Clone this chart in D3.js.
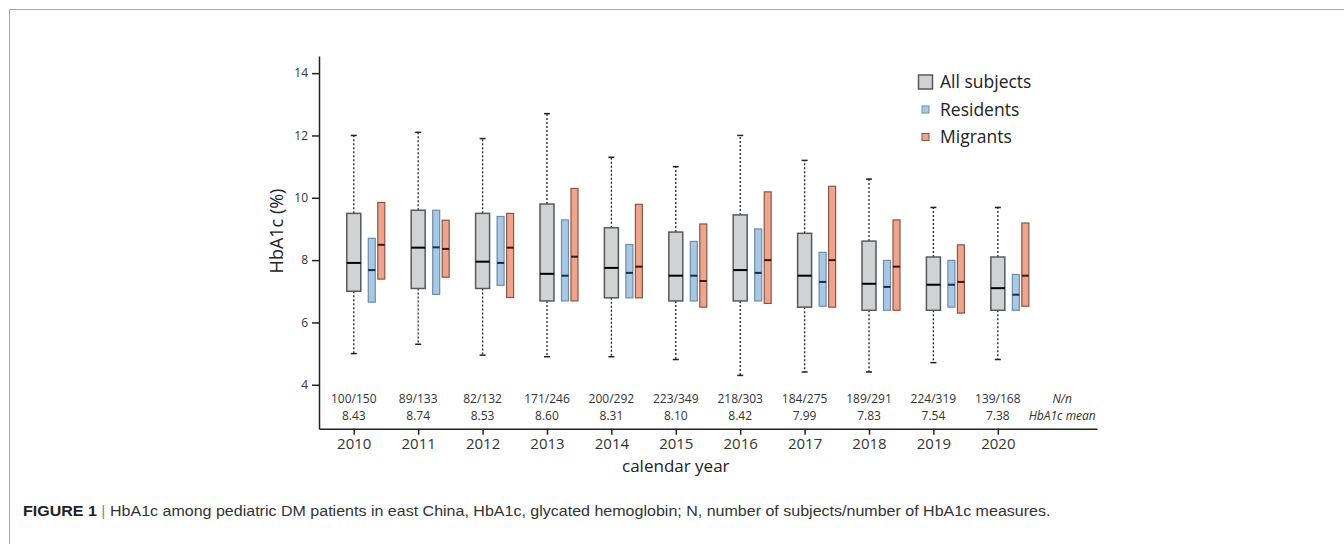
<!DOCTYPE html>
<html>
<head>
<meta charset="utf-8">
<script src="https://cdn.jsdelivr.net/npm/d3@7"></script>
<style>
  html, body { margin: 0; padding: 0; background: #fff; }
  svg { display: block; }
</style>
</head>
<body>
<svg id="chart" width="1344" height="544"></svg>
<script>
// ---------------- data ----------------
const years = [2010, 2011, 2012, 2013, 2014, 2015, 2016, 2017, 2018, 2019, 2020];
// All subjects: [whisker low, Q1, median, Q3, whisker high]
const allSubjects = [
  [5.00, 7.00, 7.91, 9.50, 12.00],
  [5.30, 7.09, 8.40, 9.60, 12.10],
  [4.95, 7.09, 7.95, 9.50, 11.90],
  [4.90, 6.69, 7.56, 9.80, 12.70],
  [4.90, 6.79, 7.75, 9.04, 11.30],
  [4.81, 6.69, 7.50, 8.90, 11.00],
  [4.30, 6.69, 7.68, 9.45, 12.00],
  [4.41, 6.49, 7.50, 8.86, 11.20],
  [4.41, 6.39, 7.24, 8.61, 10.60],
  [4.71, 6.39, 7.21, 8.10, 9.69],
  [4.81, 6.39, 7.10, 8.10, 9.69]
];
// Residents: [Q1, median, Q3]
const residents = [
  [6.65, 7.68, 8.70],
  [6.90, 8.41, 9.60],
  [7.19, 7.91, 9.40],
  [6.69, 7.50, 9.29],
  [6.79, 7.59, 8.50],
  [6.69, 7.50, 8.60],
  [6.69, 7.59, 9.00],
  [6.52, 7.30, 8.25],
  [6.39, 7.14, 7.99],
  [6.49, 7.21, 7.99],
  [6.39, 6.89, 7.54]
];
// Migrants: [Q1, median, Q3]
const migrants = [
  [7.39, 8.49, 9.85],
  [7.45, 8.36, 9.28],
  [6.80, 8.40, 9.50],
  [6.69, 8.11, 10.30],
  [6.79, 7.79, 9.79],
  [6.49, 7.33, 9.16],
  [6.61, 8.00, 10.19],
  [6.49, 8.00, 10.37],
  [6.39, 7.79, 9.29],
  [6.30, 7.30, 8.49],
  [6.52, 7.50, 9.19]
];
const nLabels = ["100/150", "89/133", "82/132", "171/246", "200/292", "223/349", "218/303", "184/275", "189/291", "224/319", "139/168"];
const meanLabels = ["8.43", "8.74", "8.53", "8.60", "8.31", "8.10", "8.42", "7.99", "7.83", "7.54", "7.38"];
const yTicks = [4, 6, 8, 10, 12, 14];
const legendLabels = ["All subjects", "Residents", "Migrants"];
const rowHeaders = ["N/n", "HbA1c mean"];
const yTitle = "HbA1c (%)";
const xTitle = "calendar year";
const captionBold = "FIGURE 1";
const captionText = "HbA1c among pediatric DM patients in east China, HbA1c, glycated hemoglobin; N, number of subjects/number of HbA1c measures.";

// ---------------- drawing ----------------
const FONT = "'Open Sans', 'Noto Sans', sans-serif";
const svg = d3.select("#chart");

// frame
svg.append("path")
  .attr("d", "M9.5,544 L9.5,9.5 L1344,9.5")
  .attr("fill", "none").attr("stroke", "#a8a8a8").attr("stroke-width", 1);

const x = d3.scaleLinear().domain([2009.46, 2021.54]).range([319, 1097]);
const y = d3.scaleLinear().domain([2.59, 14.55]).range([428.7, 56]);

const colAll = { fill: "#d1d2d3", stroke: "#58595b", med: "#000" };
const colRes = { fill: "#a8c8e6", stroke: "#6f8ca8", med: "#1a2f45" };
const colMig = { fill: "#eda58d", stroke: "#8d5545", med: "#3d160d" };

// axes
const yAxis = svg.append("g").attr("transform", "translate(319,0)")
  .call(d3.axisLeft(y).tickValues(yTicks).tickSize(7).tickSizeOuter(0).tickPadding(4));
const xAxis = svg.append("g").attr("transform", "translate(0,428.7)")
  .call(d3.axisBottom(x).tickValues(years).tickFormat(d3.format("d")).tickSize(6).tickSizeOuter(0).tickPadding(4));
[yAxis, xAxis].forEach(g => {
  g.select(".domain").attr("stroke", "#222").attr("stroke-width", 1.5);
  g.selectAll(".tick line").attr("stroke", "#222").attr("stroke-width", 1.5);
  g.selectAll(".tick text").attr("fill", "#333").style("font-family", FONT);
});
yAxis.selectAll(".tick text").style("font-size", "12px");
xAxis.selectAll(".tick text").style("font-size", "15px");

// whiskers (all subjects)
const plot = svg.append("g");
const wG = plot.selectAll(".whisk").data(allSubjects).enter().append("g");
wG.append("line")
  .attr("x1", (d, i) => x(years[i])).attr("x2", (d, i) => x(years[i]))
  .attr("y1", d => y(d[3])).attr("y2", d => y(d[4]))
  .attr("stroke", "#222").attr("stroke-width", 1.3).attr("stroke-dasharray", "2,2");
wG.append("line")
  .attr("x1", (d, i) => x(years[i])).attr("x2", (d, i) => x(years[i]))
  .attr("y1", d => y(d[1])).attr("y2", d => y(d[0]))
  .attr("stroke", "#222").attr("stroke-width", 1.3).attr("stroke-dasharray", "2,2");
[4, 0].forEach(k => {
  wG.append("line")
    .attr("x1", (d, i) => x(years[i]) - 3).attr("x2", (d, i) => x(years[i]) + 3)
    .attr("y1", d => y(d[k])).attr("y2", d => y(d[k]))
    .attr("stroke", "#222").attr("stroke-width", 1.5);
});

function drawBoxes(data, qi, offset, width, col, sw) {
  const g = plot.append("g");
  const b = g.selectAll("g").data(data).enter().append("g");
  b.append("rect")
    .attr("x", (d, i) => x(years[i]) + offset - width / 2)
    .attr("width", width)
    .attr("y", d => y(d[qi[2]]))
    .attr("height", d => y(d[qi[0]]) - y(d[qi[2]]))
    .attr("fill", col.fill).attr("stroke", col.stroke).attr("stroke-width", sw);
  b.append("line")
    .attr("x1", (d, i) => x(years[i]) + offset - width / 2)
    .attr("x2", (d, i) => x(years[i]) + offset + width / 2)
    .attr("y1", d => y(d[qi[1]])).attr("y2", d => y(d[qi[1]]))
    .attr("stroke", col.med).attr("stroke-width", 2);
}
drawBoxes(allSubjects, [1, 2, 3], 0, 14, colAll, 1.5);
drawBoxes(residents, [0, 1, 2], 18, 7, colRes, 1.2);
drawBoxes(migrants, [0, 1, 2], 27.5, 7, colMig, 1.2);

// N/n and mean labels
const lab = svg.append("g").style("font-family", FONT).style("font-size", "12px").attr("fill", "#333").attr("text-anchor", "middle");
lab.selectAll(".n").data(nLabels).enter().append("text")
  .attr("x", (d, i) => x(years[i])).attr("y", 403).text(d => d);
lab.selectAll(".m").data(meanLabels).enter().append("text")
  .attr("x", (d, i) => x(years[i])).attr("y", 420).text(d => d);
lab.selectAll(".h").data(rowHeaders).enter().append("text")
  .attr("x", x(2021)).attr("y", (d, i) => i === 0 ? 403 : 420)
  .style("font-style", "italic").text(d => d);

// axis titles
svg.append("text")
  .attr("transform", "translate(283,231) rotate(-90)")
  .attr("text-anchor", "middle").attr("fill", "#222")
  .style("font-family", FONT).style("font-size", "18px").text(yTitle);
svg.append("text")
  .attr("x", x(2015)).attr("y", 472)
  .attr("text-anchor", "middle").attr("fill", "#222")
  .style("font-family", FONT).style("font-size", "17px").text(xTitle);

// legend
const leg = svg.append("g").style("font-family", FONT).style("font-size", "17.5px");
const legCols = [colAll, colRes, colMig];
const legSizes = [14, 7, 7];
legendLabels.forEach((t, i) => {
  const cy = 82 + i * 27.5;
  const s = legSizes[i];
  leg.append("rect")
    .attr("x", 925.5 - s / 2).attr("y", cy - s / 2)
    .attr("width", s).attr("height", s)
    .attr("fill", legCols[i].fill).attr("stroke", legCols[i].stroke).attr("stroke-width", i === 0 ? 1.5 : 1);
  leg.append("text").attr("x", 940).attr("y", cy + 6).attr("fill", "#222").text(t);
});

// caption
const cap = svg.append("g").attr("transform", "translate(23,516)");
const capText = cap.append("text")
  .style("font-family", "'Liberation Sans', Arial, sans-serif").style("font-size", "15px").attr("fill", "#333");
capText.append("tspan").style("font-weight", "bold").attr("fill", "#222").text(captionBold);
capText.append("tspan").attr("fill", "#888").text(" | ");
capText.append("tspan").text(captionText);
const w = capText.node().getComputedTextLength();
capText.attr("transform", `scale(${1028 / w},1)`);
</script>
</body>
</html>
